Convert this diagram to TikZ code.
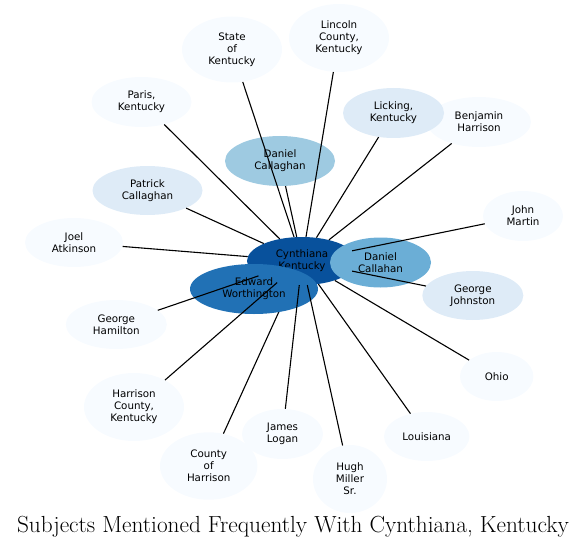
\documentclass[tikz,border=0pt]{standalone}
\usepackage{fontspec}
\usetikzlibrary{shapes.geometric}
\newfontfamily\nodefont{DejaVu Sans}
\definecolor{hubc}{HTML}{08519C}
\definecolor{edwc}{HTML}{2171B5}
\definecolor{calc}{HTML}{6BAED6}
\definecolor{dcgc}{HTML}{9ECAE1}
\definecolor{ltc}{HTML}{DEEBF7}
\definecolor{vltc}{HTML}{F7FBFF}
\tikzset{
  ent/.style={ellipse, inner sep=0pt, align=center, text=black,
    font=\nodefont\fontsize{10.3}{12}\selectfont},
  link/.style={draw=black, line width=1.1pt},
}
\newcommand{\ent}[6]{\node[ent, fill=#4, minimum width=#2*2pt, minimum height=#3*2pt] (#1) at #5 {#6};}
\begin{document}
\begin{tikzpicture}[x=1pt,y=-1pt]
\useasboundingbox (0,0) rectangle (588,548);
% leaves
\ent{benj}{52}{25}{vltc}{(479,122)}{Benjamin\\Harrison}
\ent{lick}{50.5}{25}{ltc}{(393.5,113)}{Licking,\\Kentucky}
\ent{state}{50}{33}{vltc}{(232,49.5)}{State\\of\\Kentucky}
\ent{linc}{50}{34}{vltc}{(339,38)}{Lincoln\\County,\\Kentucky}
\ent{paris}{50}{25}{vltc}{(141.5,102)}{Paris,\\Kentucky}
\ent{pat}{55}{24.5}{ltc}{(147.5,190.5)}{Patrick\\Callaghan}
\ent{dcg}{55}{25}{dcgc}{(280,161)}{Daniel\\Callaghan}
\ent{john}{40}{25}{vltc}{(523,216)}{John\\Martin}
\ent{joel}{49}{24.5}{vltc}{(74,242.5)}{Joel\\Atkinson}
\ent{gjoh}{50.5}{24.5}{ltc}{(472.8,295.5)}{George\\Johnston}
\ent{gham}{50.5}{24.5}{vltc}{(116.3,324.5)}{George\\Hamilton}
\ent{ohio}{36.7}{24.5}{vltc}{(496.7,376.5)}{Ohio}
\ent{hcky}{50}{34}{vltc}{(134,407)}{Harrison\\County,\\Kentucky}
\ent{coh}{48.7}{33.7}{vltc}{(208.7,466)}{County\\of\\Harrison}
\ent{jlog}{40.5}{25}{vltc}{(282.5,434)}{James\\Logan}
\ent{hugh}{37}{34}{vltc}{(350,479)}{Hugh\\Miller\\Sr.}
\ent{lou}{42.7}{24.5}{vltc}{(426.7,436.5)}{Louisiana}
% hub
\ent{hub}{55}{24}{hubc}{(302,261)}{Cynthiana\\Kentucky}
\draw[link] (hub) -- (coh);
\ent{edw}{64}{25}{edwc}{(254,289)}{Edward\\Worthington}
\ent{calh}{50.5}{25}{calc}{(380.5,262.5)}{Daniel\\Callahan}
% edges
\foreach \n in {state,linc,paris,lick,benj,dcg,pat,joel,john,gjoh,ohio,lou,hugh,jlog,hcky,gham}
  \draw[link] (hub) -- (\n);
% title
\node[anchor=base, font=\fontsize{23.3}{28}\selectfont] (title) at (293,532) {Subjects Mentioned Frequently With Cynthiana, Kentucky};
\end{tikzpicture}
\end{document}
